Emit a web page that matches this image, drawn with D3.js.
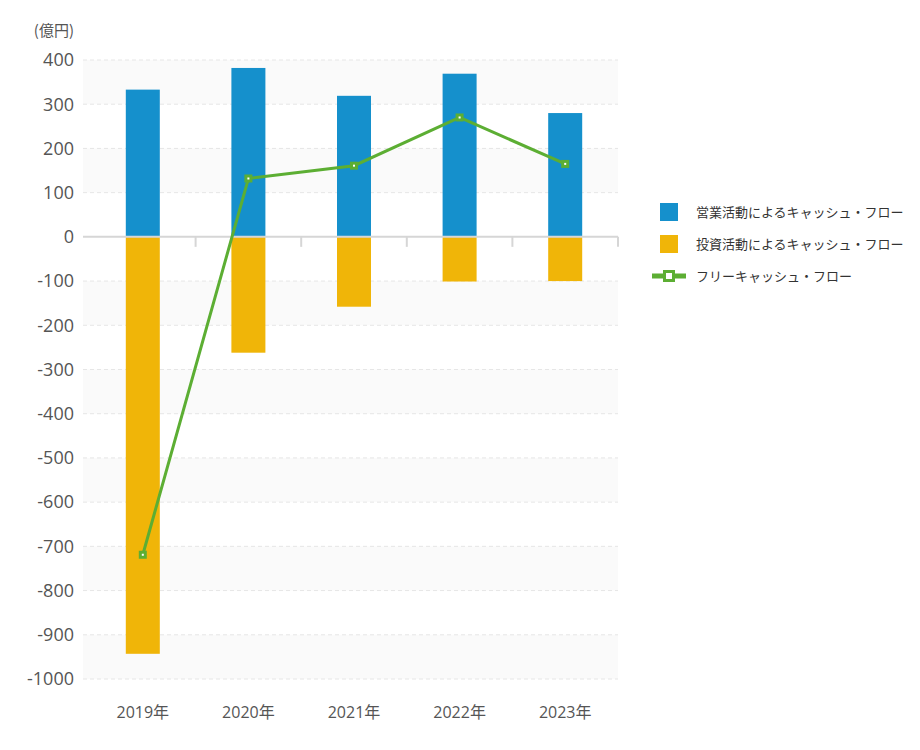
<!DOCTYPE html>
<html><head><meta charset="utf-8">
<script src="https://cdn.jsdelivr.net/npm/d3@7"></script>
<style>
body{margin:0;background:#fff;}
svg{display:block;font-family:"Noto Sans CJK JP","Noto Sans",sans-serif;}
</style></head><body>
<svg id="c" width="920" height="750"></svg>
<script>
const years = ["2019年","2020年","2021年","2022年","2023年"];
const operatingCF = [333, 382, 319, 369, 280];
const investingCF = [-943, -262, -158, -101, -100];
const freeCF = [-719, 132, 161, 270, 165];
const yTicks = [400,300,200,100,0,-100,-200,-300,-400,-500,-600,-700,-800,-900,-1000];
const seriesNames = ["営業活動によるキャッシュ・フロー","投資活動によるキャッシュ・フロー","フリーキャッシュ・フロー"];
const unitLabel = "(億円)";

const colors = {op:"#1590cc", inv:"#f0b508", fcf:"#5cae33"};
const svg = d3.select("#c");
const left = 90, right = 618, gridLeft = 83;
const y = d3.scaleLinear().domain([-1000,400]).range([679,60]);
const x = d3.scaleBand().domain(years).range([left,right]).paddingInner(0).paddingOuter(0);
const barW = 34;

// alternating bands
const bands = [[400,300],[200,100],[-100,-200],[-300,-400],[-500,-600],[-700,-800],[-900,-1000]];
svg.append("g").selectAll("rect").data(bands).join("rect")
  .attr("x", gridLeft).attr("width", right - gridLeft)
  .attr("y", d => y(d[0])).attr("height", d => y(d[1]) - y(d[0]))
  .attr("fill", "#fafafa");

// gridlines
svg.append("g").selectAll("line").data(yTicks.filter(v => v !== 0)).join("line")
  .attr("x1", gridLeft).attr("x2", right)
  .attr("y1", d => y(d)).attr("y2", d => y(d))
  .attr("stroke", "#e6e6e6").attr("stroke-dasharray", "4,3").attr("stroke-width", 1);

// y labels
svg.append("g").selectAll("text").data(yTicks).join("text")
  .attr("x", 74).attr("y", d => y(d)).attr("dy", "0.35em")
  .attr("text-anchor", "end").attr("fill", "#555").attr("font-size", 18)
  .attr("font-family", "'Open Sans', 'Noto Sans', sans-serif")
  .text(d => d);

svg.append("text").attr("x", 74).attr("y", 36).attr("text-anchor", "end")
  .attr("fill", "#555").attr("font-size", 15).text(unitLabel);

// bars
svg.append("g").selectAll("rect").data(years).join("rect")
  .attr("x", (d) => x(d) + x.bandwidth()/2 - barW/2).attr("width", barW)
  .attr("y", (d,i) => y(operatingCF[i])).attr("height", (d,i) => y(0) - y(operatingCF[i]))
  .attr("fill", colors.op);
svg.append("g").selectAll("rect").data(years).join("rect")
  .attr("x", (d) => x(d) + x.bandwidth()/2 - barW/2).attr("width", barW)
  .attr("y", y(0)).attr("height", (d,i) => y(investingCF[i]) - y(0))
  .attr("fill", colors.inv);

// zero axis
const ax = svg.append("g");
ax.append("line").attr("x1", gridLeft).attr("x2", right).attr("y1", y(0)).attr("y2", y(0))
  .attr("stroke", "#d6d6d6").attr("stroke-width", 2);
ax.selectAll("line.t").data(years.slice(1).concat(["end"])).join("line").attr("class","t")
  .attr("x1", (d,i) => i < 4 ? x(d) : right).attr("x2", (d,i) => i < 4 ? x(d) : right)
  .attr("y1", y(0)).attr("y2", y(0) + 10)
  .attr("stroke", "#d6d6d6").attr("stroke-width", 2);

// x labels
svg.append("g").selectAll("text").data(years).join("text")
  .attr("x", d => x(d) + x.bandwidth()/2).attr("y", 718)
  .attr("text-anchor", "middle").attr("fill", "#555").attr("font-size", 16)
  .attr("font-family", "'Open Sans', 'Noto Sans CJK JP', sans-serif")
  .text(d => d);

// FCF line
const line = d3.line().x((d,i) => x(years[i]) + x.bandwidth()/2).y(d => y(d));
svg.append("path").datum(freeCF).attr("d", line).attr("fill", "none")
  .attr("stroke", colors.fcf).attr("stroke-width", 3);
const mk = svg.append("g").selectAll("g").data(freeCF).join("g")
  .attr("transform", (d,i) => `translate(${x(years[i]) + x.bandwidth()/2},${y(d)})`);
mk.append("rect").attr("x", -4).attr("y", -4).attr("width", 8).attr("height", 8).attr("fill", colors.fcf);
mk.append("rect").attr("x", -1).attr("y", -1).attr("width", 2).attr("height", 2).attr("fill", "#fff");

// legend
const lg = svg.append("g");
lg.append("rect").attr("x", 660).attr("y", 203).attr("width", 18).attr("height", 18).attr("fill", colors.op);
lg.append("rect").attr("x", 660).attr("y", 235).attr("width", 18).attr("height", 18).attr("fill", colors.inv);
lg.append("line").attr("x1", 652).attr("x2", 686).attr("y1", 276).attr("y2", 276)
  .attr("stroke", colors.fcf).attr("stroke-width", 5);
lg.append("rect").attr("x", 663).attr("y", 270).attr("width", 12).attr("height", 12).attr("fill", colors.fcf);
lg.append("rect").attr("x", 666).attr("y", 273).attr("width", 6).attr("height", 6).attr("fill", "#fff");
const ly = [212, 244, 276];
lg.selectAll("text").data(seriesNames).join("text")
  .attr("x", 696).attr("y", (d,i) => ly[i]).attr("dy", "0.35em")
  .attr("fill", "#333").attr("font-size", 13).text(d => d);
</script>
</body></html>
